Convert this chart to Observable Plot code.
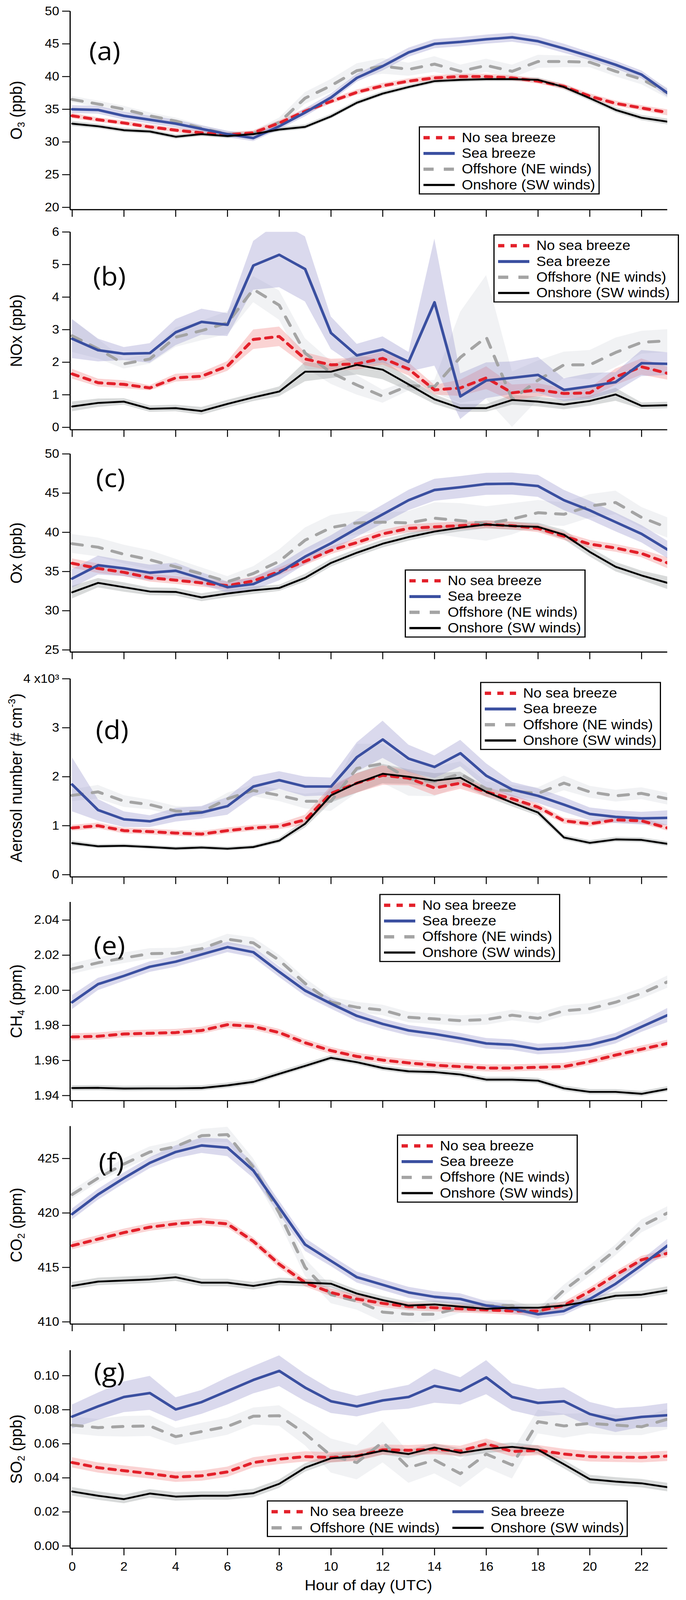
<!DOCTYPE html>
<html><head><meta charset="utf-8">
<script src="https://cdn.jsdelivr.net/npm/d3@7"></script>
<script src="https://cdn.jsdelivr.net/npm/@observablehq/plot@0.6"></script>
<style>
html,body{margin:0;padding:0;background:#fff;}
#frame{position:relative;width:1756px;height:4096px;overflow:hidden;background:#fff;}
#root{position:absolute;left:0;top:0;width:1756px;height:4369px;background:#fff;font-family:"Liberation Sans",Arial,Helvetica,sans-serif;color:#000;transform-origin:0 0;}
.panel{position:absolute;left:0;}
.ylab{position:absolute;white-space:nowrap;font-size:43px;line-height:1;transform:translate(-50%,-50%) rotate(-90deg);}
.ylab sub{font-size:0.62em;vertical-align:-0.28em;line-height:0}
.ylab sup{font-size:0.62em;vertical-align:0.62em;line-height:0}
.letter{position:absolute;font-family:"Open Sans",sans-serif;font-size:70px;line-height:1;transform:translateX(-50%);white-space:nowrap}
.legend{position:absolute;border:3px solid #000;background:#fff;box-sizing:border-box;padding:6px 0 0 9px;}
.legend.two{display:grid;grid-template-columns:463px auto;}
.row{height:43px;display:flex;align-items:center;font-size:37px;white-space:nowrap}
.row svg{margin-right:18px;flex:none}
.xlab{position:absolute;font-size:40px;line-height:1;white-space:nowrap;transform:translateX(-50%)}
</style>
</head><body>
<div id="frame"><div id="root"></div></div>
<script>
// ---------------- data ----------------
const hours = [0,1,2,3,4,5,6,7,8,9,10,11,12,13,14,15,16,17,18,19,20,21,22,23];
const xTicks = [0,2,4,6,8,10,12,14,16,18,20,22];
const seriesNames = ["No sea breeze","Sea breeze","Offshore (NE winds)","Onshore (SW winds)"];

// (a) O3 (ppb)
const o3NoSB = [34.0,33.4,32.9,32.3,31.8,31.4,31.1,31.4,32.9,34.7,36.2,37.6,38.6,39.3,39.8,40.0,40.0,39.8,39.3,38.5,37.0,35.9,35.2,34.5];
const o3SB   = [35.0,34.9,34.0,33.4,32.8,32.0,31.2,30.6,32.4,34.5,36.8,39.8,41.6,43.7,45.0,45.3,45.7,46.0,45.4,44.3,43.1,41.8,40.3,37.5];
const o3Off  = [36.5,35.8,35.0,34.0,33.2,32.1,31.2,31.3,33.0,36.7,38.6,40.9,41.6,41.1,41.9,40.8,41.7,40.8,42.3,42.3,42.2,40.8,39.6,37.5];
const o3On   = [32.8,32.4,31.8,31.6,30.8,31.2,30.9,31.2,31.9,32.3,33.9,36.0,37.4,38.4,39.3,39.5,39.6,39.6,39.5,38.4,36.7,34.9,33.7,33.1];
const o3NoSBErr = [0.4,0.35,0.35,0.35,0.35,0.35,0.35,0.35,0.4,0.4,0.4,0.4,0.4,0.4,0.4,0.4,0.4,0.4,0.4,0.4,0.4,0.4,0.4,0.45];
const o3SBErr   = [0.6,0.6,0.6,0.6,0.6,0.5,0.5,0.5,0.5,0.6,0.6,0.6,0.7,0.7,0.7,0.7,0.7,0.7,0.7,0.7,0.6,0.6,0.6,0.6];
const o3OffErr  = [0.5,0.5,0.5,0.5,0.5,0.5,0.4,0.4,0.7,0.9,1.0,1.1,1.2,1.0,1.2,1.0,1.0,1.0,1.0,0.9,0.8,0.8,0.8,0.8];
const o3OnErr   = [0.4,0.35,0.35,0.35,0.35,0.35,0.35,0.35,0.35,0.35,0.35,0.35,0.35,0.35,0.35,0.35,0.35,0.35,0.35,0.4,0.4,0.4,0.4,0.45];

// (b) NOx (ppb)
const noxNoSB = [1.64,1.37,1.32,1.21,1.52,1.57,1.88,2.70,2.79,2.10,1.92,1.95,2.12,1.79,1.15,1.21,1.52,1.06,1.15,1.04,1.06,1.55,1.86,1.66];
const noxSB   = [2.72,2.37,2.26,2.28,2.92,3.24,3.15,4.97,5.30,4.86,2.90,2.21,2.39,2.01,3.84,0.95,1.44,1.52,1.61,1.15,1.26,1.39,1.97,1.95];
const noxOff  = [2.81,2.41,1.95,2.10,2.77,2.97,3.21,4.24,3.75,2.28,1.68,1.30,0.95,1.28,1.25,2.15,2.77,0.86,1.45,1.92,1.92,2.30,2.61,2.66];
const noxOn   = [0.64,0.75,0.79,0.57,0.59,0.50,0.72,0.92,1.10,1.71,1.71,1.92,1.77,1.32,0.86,0.59,0.59,0.84,0.79,0.70,0.81,1.01,0.66,0.68];
const noxNoSBErr = [0.15,0.12,0.12,0.08,0.12,0.12,0.15,0.3,0.3,0.2,0.18,0.18,0.2,0.2,0.15,0.25,0.35,0.25,0.2,0.15,0.15,0.25,0.25,0.2];
const noxSBErr   = [0.6,0.35,0.2,0.3,0.4,0.4,0.35,0.75,1.0,1.0,0.5,0.35,0.4,0.3,1.95,0.7,0.55,0.5,0.55,0.35,0.4,0.3,0.4,0.35];
const noxOffErr  = [0.5,0.3,0.15,0.15,0.3,0.3,0.35,0.4,0.45,0.45,0.35,0.3,0.2,0.15,0.2,1.4,1.9,0.85,0.6,0.4,0.45,0.45,0.35,0.35];
const noxOnErr   = [0.15,0.13,0.1,0.1,0.1,0.12,0.12,0.12,0.15,0.3,0.2,0.3,0.3,0.2,0.15,0.12,0.12,0.15,0.15,0.15,0.15,0.2,0.1,0.1];

// (c) Ox (ppb)
const oxNoSB = [36.05,35.4,34.9,34.2,33.9,33.55,33.2,33.8,35.0,36.3,37.7,38.7,39.8,40.5,40.7,40.85,41.0,40.85,40.5,39.5,38.5,38.0,37.3,36.1];
const oxSB   = [34.1,35.8,35.4,34.85,35.1,34.1,33.0,33.4,34.85,36.9,38.6,40.5,42.3,44.1,45.4,45.75,46.16,46.2,45.9,44.1,42.8,41.3,39.8,37.8];
const oxOff  = [38.55,38.1,37.2,36.5,35.6,34.7,33.7,34.75,36.3,39.0,40.6,41.2,41.3,41.2,41.8,41.5,41.1,41.7,42.5,42.3,43.35,43.8,41.9,40.6];
const oxOn   = [32.35,33.55,33.0,32.45,32.4,31.7,32.2,32.6,32.9,34.2,36.1,37.4,38.55,39.4,40.1,40.6,41.0,40.8,40.7,39.7,37.5,35.6,34.5,33.55];
const oxNoSBErr = [0.6,0.6,0.5,0.5,0.5,0.5,0.5,0.5,0.5,0.5,0.5,0.5,0.5,0.5,0.5,0.5,0.5,0.5,0.5,0.5,0.5,0.5,0.5,0.7];
const oxSBErr   = [1.2,1.2,1.0,1.0,1.0,0.8,0.7,0.8,1.0,1.0,1.0,1.1,1.2,1.3,1.4,1.4,1.4,1.4,1.4,1.3,1.2,1.2,1.1,1.1];
const oxOffErr  = [1.2,1.2,1.2,1.2,1.0,0.8,0.7,0.9,1.5,1.6,1.6,1.5,1.2,1.5,2.0,2.2,2.2,2.0,1.6,1.5,1.5,1.5,1.3,1.3];
const oxOnErr   = [0.8,0.6,0.6,0.5,0.5,0.5,0.5,0.5,0.4,0.5,0.5,0.5,0.5,0.5,0.5,0.5,0.5,0.5,0.5,0.6,0.6,0.6,0.6,0.8];

// (d) Aerosol number (x10^3 # cm^-3)
const aerNoSB = [0.955,1.0,0.90,0.88,0.85,0.83,0.90,0.955,0.985,1.12,1.66,1.87,2.03,1.97,1.77,1.87,1.69,1.55,1.38,1.10,1.04,1.12,1.10,0.955];
const aerSB   = [1.84,1.32,1.13,1.09,1.22,1.27,1.40,1.80,1.93,1.80,1.80,2.40,2.76,2.37,2.20,2.48,2.02,1.74,1.61,1.43,1.24,1.18,1.15,1.16];
const aerOff  = [1.62,1.69,1.50,1.43,1.30,1.28,1.55,1.72,1.62,1.50,1.50,2.17,2.27,1.96,1.90,2.06,1.75,1.71,1.66,1.87,1.69,1.61,1.66,1.55];
const aerOn   = [0.645,0.58,0.59,0.565,0.535,0.555,0.53,0.565,0.695,1.04,1.62,1.87,2.06,2.0,1.92,1.98,1.69,1.47,1.27,0.76,0.65,0.72,0.71,0.63];
const aerNoSBErr = [0.06,0.06,0.06,0.06,0.06,0.06,0.06,0.06,0.06,0.1,0.15,0.2,0.2,0.15,0.15,0.12,0.1,0.08,0.07,0.06,0.06,0.06,0.06,0.06];
const aerSBErr   = [0.55,0.22,0.16,0.12,0.14,0.13,0.18,0.2,0.18,0.2,0.18,0.3,0.38,0.28,0.23,0.27,0.25,0.15,0.15,0.15,0.13,0.13,0.13,0.15];
const aerOffErr  = [0.12,0.14,0.12,0.1,0.1,0.1,0.12,0.12,0.12,0.15,0.2,0.5,0.4,0.35,0.3,0.25,0.15,0.12,0.12,0.15,0.12,0.12,0.12,0.12];
const aerOnErr   = [0.05,0.04,0.04,0.04,0.04,0.04,0.04,0.04,0.05,0.08,0.15,0.2,0.2,0.15,0.15,0.12,0.1,0.08,0.07,0.05,0.05,0.05,0.05,0.05];

// (e) CH4 (ppm)
const ch4NoSB = [1.9734,1.9738,1.9751,1.9755,1.9759,1.9771,1.9804,1.9794,1.9759,1.9701,1.9656,1.9623,1.9602,1.9586,1.9573,1.9565,1.9557,1.9557,1.9561,1.9565,1.9594,1.9631,1.9664,1.9697];
const ch4SB   = [1.9932,2.0035,2.0082,2.0134,2.0163,2.0204,2.0246,2.0217,2.0105,1.9998,1.9924,1.9854,1.9808,1.9771,1.9751,1.9726,1.9697,1.9689,1.9664,1.9672,1.9689,1.9726,1.9792,1.9858];
const ch4Off  = [2.0122,2.0157,2.0184,2.0209,2.0211,2.0237,2.0291,2.0270,2.0171,2.0039,1.9932,1.9903,1.9887,1.9846,1.9837,1.9827,1.9833,1.9858,1.9840,1.9883,1.9895,1.9932,1.9982,2.0048];
const ch4On   = [1.9443,1.9444,1.9440,1.9441,1.9441,1.9443,1.9458,1.9478,1.9524,1.9569,1.9615,1.9590,1.9557,1.9538,1.9534,1.9520,1.9491,1.9491,1.9485,1.9441,1.9421,1.9421,1.9410,1.9437];
const ch4NoSBErr = [0.002,0.002,0.002,0.002,0.002,0.002,0.002,0.002,0.002,0.002,0.002,0.002,0.002,0.002,0.002,0.002,0.002,0.002,0.002,0.002,0.002,0.002,0.002,0.002];
const ch4SBErr   = [0.004,0.0035,0.003,0.003,0.003,0.003,0.003,0.003,0.003,0.003,0.003,0.003,0.003,0.003,0.003,0.003,0.003,0.003,0.003,0.003,0.003,0.003,0.003,0.004];
const ch4OffErr  = [0.003,0.003,0.003,0.003,0.003,0.003,0.003,0.003,0.003,0.003,0.003,0.003,0.003,0.003,0.003,0.003,0.003,0.003,0.003,0.003,0.003,0.003,0.003,0.0035];
const ch4OnErr   = [0.0015,0.0015,0.0015,0.0015,0.0015,0.0015,0.0015,0.0015,0.0015,0.0015,0.0015,0.0015,0.0015,0.0015,0.0015,0.0015,0.0015,0.0015,0.0015,0.0015,0.0015,0.0015,0.0015,0.0015];

// (f) CO2 (ppm)
const co2NoSB = [417.0,417.6,418.2,418.7,419.0,419.2,419.0,417.4,415.3,413.6,412.7,412.1,411.7,411.4,411.3,411.2,411.1,411.0,411.0,411.5,412.8,414.3,415.7,416.3];
const co2SB   = [419.9,421.7,423.2,424.6,425.6,426.2,426.0,423.9,420.5,417.1,415.6,414.1,413.4,412.7,412.3,412.1,411.5,411.2,410.7,411.0,412.1,413.5,415.2,417.0];
const co2Off  = [421.7,423.2,424.5,425.6,426.1,427.1,427.2,424.2,420.0,415.0,412.5,411.9,410.9,410.7,410.7,411.3,411.5,411.5,410.7,412.9,414.7,416.6,418.8,420.0];
const co2On   = [413.3,413.7,413.8,413.9,414.1,413.6,413.6,413.3,413.7,413.6,413.5,412.6,412.0,411.5,411.6,411.4,411.2,411.3,411.3,411.5,411.9,412.4,412.5,412.9];
const co2NoSBErr = [0.35,0.35,0.35,0.35,0.35,0.35,0.35,0.35,0.35,0.35,0.35,0.35,0.35,0.35,0.35,0.35,0.35,0.35,0.35,0.35,0.35,0.35,0.35,0.35];
const co2SBErr   = [0.5,0.5,0.5,0.5,0.6,0.7,0.8,0.7,0.6,0.6,0.5,0.5,0.5,0.5,0.5,0.5,0.4,0.4,0.4,0.4,0.4,0.5,0.5,0.6];
const co2OffErr  = [0.4,0.4,0.5,0.5,0.5,0.6,0.7,0.8,0.8,0.8,0.8,0.8,0.9,0.9,0.6,0.5,0.5,0.5,0.5,0.5,0.5,0.5,0.6,0.6];
const co2OnErr   = [0.35,0.35,0.35,0.35,0.35,0.35,0.35,0.35,0.35,0.35,0.35,0.35,0.35,0.35,0.35,0.35,0.35,0.35,0.35,0.35,0.35,0.35,0.35,0.35];

// (g) SO2 (ppb)
const so2NoSB = [0.049,0.046,0.0442,0.0425,0.0405,0.0412,0.0435,0.049,0.051,0.0525,0.052,0.0528,0.0565,0.0562,0.0568,0.0558,0.060,0.0555,0.0562,0.054,0.0525,0.0522,0.052,0.0528];
const so2SB   = [0.076,0.082,0.0875,0.0898,0.0802,0.0845,0.091,0.0975,0.1028,0.093,0.085,0.082,0.0855,0.0875,0.094,0.091,0.099,0.0875,0.084,0.085,0.0775,0.0738,0.0758,0.0768];
const so2Off  = [0.071,0.0695,0.0702,0.0705,0.0642,0.0672,0.0702,0.0762,0.0765,0.066,0.053,0.049,0.061,0.046,0.0505,0.0425,0.054,0.0475,0.073,0.0705,0.072,0.071,0.070,0.0745];
const so2On   = [0.032,0.0295,0.0275,0.0308,0.029,0.0295,0.0295,0.031,0.0365,0.046,0.0515,0.0528,0.056,0.054,0.0578,0.0547,0.057,0.0582,0.0565,0.048,0.0392,0.0378,0.0368,0.0345];
const so2NoSBErr = [0.003,0.003,0.003,0.003,0.003,0.003,0.003,0.003,0.003,0.003,0.003,0.003,0.003,0.003,0.003,0.003,0.003,0.003,0.003,0.003,0.003,0.003,0.003,0.003];
const so2SBErr   = [0.007,0.008,0.009,0.01,0.007,0.007,0.008,0.008,0.009,0.008,0.007,0.006,0.006,0.007,0.01,0.008,0.01,0.008,0.008,0.008,0.007,0.007,0.006,0.007];
const so2OffErr  = [0.005,0.005,0.006,0.006,0.005,0.005,0.005,0.005,0.006,0.007,0.01,0.01,0.012,0.009,0.008,0.008,0.008,0.008,0.007,0.007,0.006,0.006,0.005,0.006];
const so2OnErr   = [0.0025,0.0025,0.0025,0.0025,0.0025,0.0025,0.0025,0.0025,0.0025,0.0025,0.0025,0.0025,0.0025,0.0025,0.0025,0.0025,0.0025,0.0025,0.0025,0.0025,0.0025,0.0025,0.0025,0.0025];

// y tick values per panel
const o3Ticks  = [20,25,30,35,40,45,50];
const noxTicks = [0,1,2,3,4,5,6];
const oxTicks  = [25,30,35,40,45,50];
const aerTicks = [0,1,2,3,4];
const ch4Ticks = [1.94,1.96,1.98,2.00,2.02,2.04];
const co2Ticks = [410,415,420,425];
const so2Ticks = [0.00,0.02,0.04,0.06,0.08,0.10];

// ---------------- styles & layout ----------------
const lineStyle = [
  {stroke:"#e3202a", strokeWidth:8, strokeDasharray:"16,16"},
  {stroke:"#3a4fa0", strokeWidth:7},
  {stroke:"#a4a4a4", strokeWidth:8, strokeDasharray:"26,26"},
  {stroke:"#000000", strokeWidth:5}
];
const bandStyle = [
  {fill:"#f08080", fillOpacity:0.35},
  {fill:"#9f9bcf", fillOpacity:0.38},
  {fill:"#c8ccd4", fillOpacity:0.25},
  {fill:"#8e9494", fillOpacity:0.35}
];
const xDomain = [-0.08, 23];
// the window shows 4096 px of height: fit the 4369 px layout into it
const fitY = 4096 / 4369;

const panels = [
  {letter:"(a)", label:"O<sub>3</sub> (ppb)", series:[o3NoSB,o3SB,o3Off,o3On], errs:[o3NoSBErr,o3SBErr,o3OffErr,o3OnErr],
   ticks:o3Ticks, fmt:d=>String(d), domain:[19.65,50],
   top:0, h:600, mt:30, mb:28, lx:268, ly:146, leg:{x:1072,y:345,w:463}},
  {letter:"(b)", label:"NOx (ppb)", series:[noxNoSB,noxSB,noxOff,noxOn], errs:[noxNoSBErr,noxSBErr,noxOffErr,noxOnErr],
   ticks:noxTicks, fmt:d=>String(d), domain:[-0.074,6],
   top:600, h:600, mt:33, mb:27, lx:280, ly:762, leg:{x:1263,y:640,w:475}},
  {letter:"(c)", label:"Ox (ppb)", series:[oxNoSB,oxSB,oxOff,oxOn], errs:[oxNoSBErr,oxSBErr,oxOffErr,oxOnErr],
   ticks:oxTicks, fmt:d=>String(d), domain:[24.73,50],
   top:1200, h:600, mt:39, mb:20, lx:283, ly:1312, leg:{x:1036,y:1555,w:463}},
  {letter:"(d)", label:"Aerosol number (# cm<sup>-3</sup>)", series:[aerNoSB,aerSB,aerOff,aerOn], errs:[aerNoSBErr,aerSBErr,aerOffErr,aerOnErr],
   ticks:aerTicks, fmt:d=>d===4?"4 x10\u00B3":String(d), domain:[-0.045,4],
   top:1800, h:615, mt:53, mb:21, lx:287, ly:2000, leg:{x:1229,y:1862,w:463}},
  {letter:"(e)", label:"CH<sub>4</sub> (ppm)", series:[ch4NoSB,ch4SB,ch4Off,ch4On], errs:[ch4NoSBErr,ch4SBErr,ch4OffErr,ch4OnErr],
   ticks:ch4Ticks, fmt:d=>d.toFixed(2), domain:[1.9371,2.0502],
   top:2415, h:610, mt:48, mb:20, lx:280, ly:2589, leg:{x:971,y:2441,w:463}},
  {letter:"(f)", label:"CO<sub>2</sub> (ppm)", series:[co2NoSB,co2SB,co2Off,co2On], errs:[co2NoSBErr,co2SBErr,co2OffErr,co2OnErr],
   ticks:co2Ticks, fmt:d=>String(d), domain:[409.80,427.96],
   top:3025, h:610, mt:50, mb:20, lx:285, ly:3181, leg:{x:1016,y:3098,w:463}},
  {letter:"(g)", label:"SO<sub>2</sub> (ppb)", series:[so2NoSB,so2SB,so2Off,so2On], errs:[so2NoSBErr,so2SBErr,so2OffErr,so2OnErr],
   ticks:so2Ticks, fmt:d=>d.toFixed(2), domain:[-0.00129,0.11484],
   top:3635, h:734, mt:52, mb:142, lx:280, ly:3754, leg:{x:683,y:4097,w:924,two:true}, showX:true}
];

const root = document.getElementById("root");
root.style.transform = `scaleY(${fitY})`;

function sampleSvg(i){
  const s = lineStyle[i];
  return `<svg width="80" height="14"><line x1="0" y1="7" x2="80" y2="7" stroke="${s.stroke}" stroke-width="${s.strokeWidth+1}" ${s.strokeDasharray?`stroke-dasharray="${s.strokeDasharray}"`:""}/></svg>`;
}

panels.forEach(p => {
  const tables = p.series.map((vals, s) => hours.map((h, i) => ({hour:h, v:vals[i], lo:vals[i]-p.errs[s][i], hi:vals[i]+p.errs[s][i]})));
  const bandOrder = [2,3,0,1];
  const lineOrder = [2,0,1,3];
  const marks = [];
  bandOrder.forEach(s => marks.push(Plot.areaY(tables[s], {x:"hour", y1:"lo", y2:"hi", ...bandStyle[s], clip:true})));
  lineOrder.forEach(s => marks.push(Plot.line(tables[s], {x:"hour", y:"v", ...lineStyle[s], strokeLinejoin:"round", clip:true})));
  marks.push(Plot.ruleX([xDomain[0]], {stroke:"#000", strokeWidth:3}));
  marks.push(Plot.ruleY([p.domain[0]], {stroke:"#000", strokeWidth:3}));
  marks.push(Plot.axisY(p.ticks, {tickSize:20, tickPadding:8, tickFormat:p.fmt, strokeWidth:2.5, fontSize:33, label:null}));
  marks.push(Plot.axisX(xTicks, {tickSize:20, tickPadding:18, tickFormat: p.showX ? (d=>String(d)) : (()=>""), strokeWidth:2.5, fontSize:33, label:null}));

  const svg = Plot.plot({
    width:1756, height:p.h,
    marginTop:p.mt, marginBottom:p.mb, marginLeft:179, marginRight:48,
    style:{fontFamily:'"Liberation Sans", Arial, Helvetica, sans-serif', fontSize:"33px", color:"#000", background:"transparent", overflow:"visible"},
    x:{domain:xDomain, label:null, axis:null},
    y:{domain:p.domain, label:null, axis:null},
    marks
  });
  const wrap = document.createElement("div");
  wrap.className = "panel";
  wrap.style.top = p.top + "px";
  wrap.appendChild(svg);
  root.appendChild(wrap);

  const yl = document.createElement("div");
  yl.className = "ylab";
  yl.innerHTML = p.label;
  yl.style.left = "41px";
  yl.style.top = ((p.top + p.mt + p.top + p.h - p.mb) / 2) + "px";
  root.appendChild(yl);

  const lt = document.createElement("div");
  lt.className = "letter";
  lt.textContent = p.letter;
  lt.style.left = p.lx + "px";
  lt.style.top = (p.ly - 44) + "px";
  root.appendChild(lt);

  const lg = document.createElement("div");
  lg.className = "legend" + (p.leg.two ? " two" : "");
  lg.style.left = p.leg.x + "px";
  lg.style.top = p.leg.y + "px";
  lg.style.width = p.leg.w + "px";
  lg.style.height = (p.leg.two ? 100 : 186) + "px";
  lg.innerHTML = seriesNames.map((n, i) => `<div class="row">${sampleSvg(i)}<span>${n}</span></div>`).join("");
  root.appendChild(lg);
});

const xl = document.createElement("div");
xl.className = "xlab";
xl.textContent = "Hour of day (UTC)";
xl.style.left = "943px";
xl.style.top = "4308px";
root.appendChild(xl);
</script>
</body></html>
